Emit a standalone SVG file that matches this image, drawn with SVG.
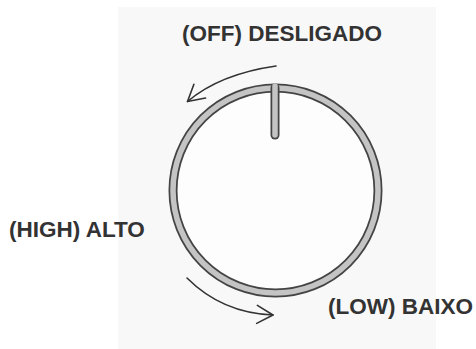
<svg xmlns="http://www.w3.org/2000/svg" width="476" height="349" viewBox="0 0 476 349">
  <defs>
    <style>
      .lbl { font-family: "Liberation Sans", Arial, sans-serif; font-weight: bold; font-size: 22.5px; fill: #333333; }
      .arc { fill: none; stroke: #333333; stroke-width: 1.6; stroke-linecap: round; }
    </style>
    <marker id="chev" markerUnits="userSpaceOnUse" viewBox="-20 -12 24 24" refX="0" refY="0" markerWidth="24" markerHeight="24" orient="auto">
      <path d="M -16 -9 L 0 0 L -16 9" fill="none" stroke="#333333" stroke-width="1.6" stroke-linecap="round" stroke-linejoin="round"/>
    </marker>
  </defs>
  <rect x="0" y="0" width="476" height="349" fill="#ffffff"/>
  <rect x="118" y="7" width="318" height="342" fill="#f8f8f8"/>

  <g id="knob">
    <circle cx="275.5" cy="190.5" r="102.5" fill="#fdfdfd" stroke="#444444" stroke-width="9"/>
    <circle cx="275.5" cy="190.5" r="102.5" fill="none" stroke="#c4c4c4" stroke-width="5.5"/>
  </g>
  <g id="pointer">
    <line x1="275" y1="88" x2="275" y2="135" stroke="#444444" stroke-width="9" stroke-linecap="round"/>
    <line x1="275" y1="86" x2="275" y2="135" stroke="#c4c4c4" stroke-width="5.5" stroke-linecap="round"/>
  </g>

  <g id="connectors">
    <path class="arc" d="M 276 66 Q 220 74 187.5 101.5" marker-end="url(#chev)"/>
    <path class="arc" d="M 187 278 Q 222 313 273 315" marker-end="url(#chev)"/>
  </g>

  <g id="label-off"><text class="lbl" x="182" y="41">(OFF) DESLIGADO</text></g>
  <g id="label-high"><text class="lbl" x="9" y="237">(HIGH) ALTO</text></g>
  <g id="label-low"><text class="lbl" x="328" y="314">(LOW) BAIXO</text></g>
</svg>
